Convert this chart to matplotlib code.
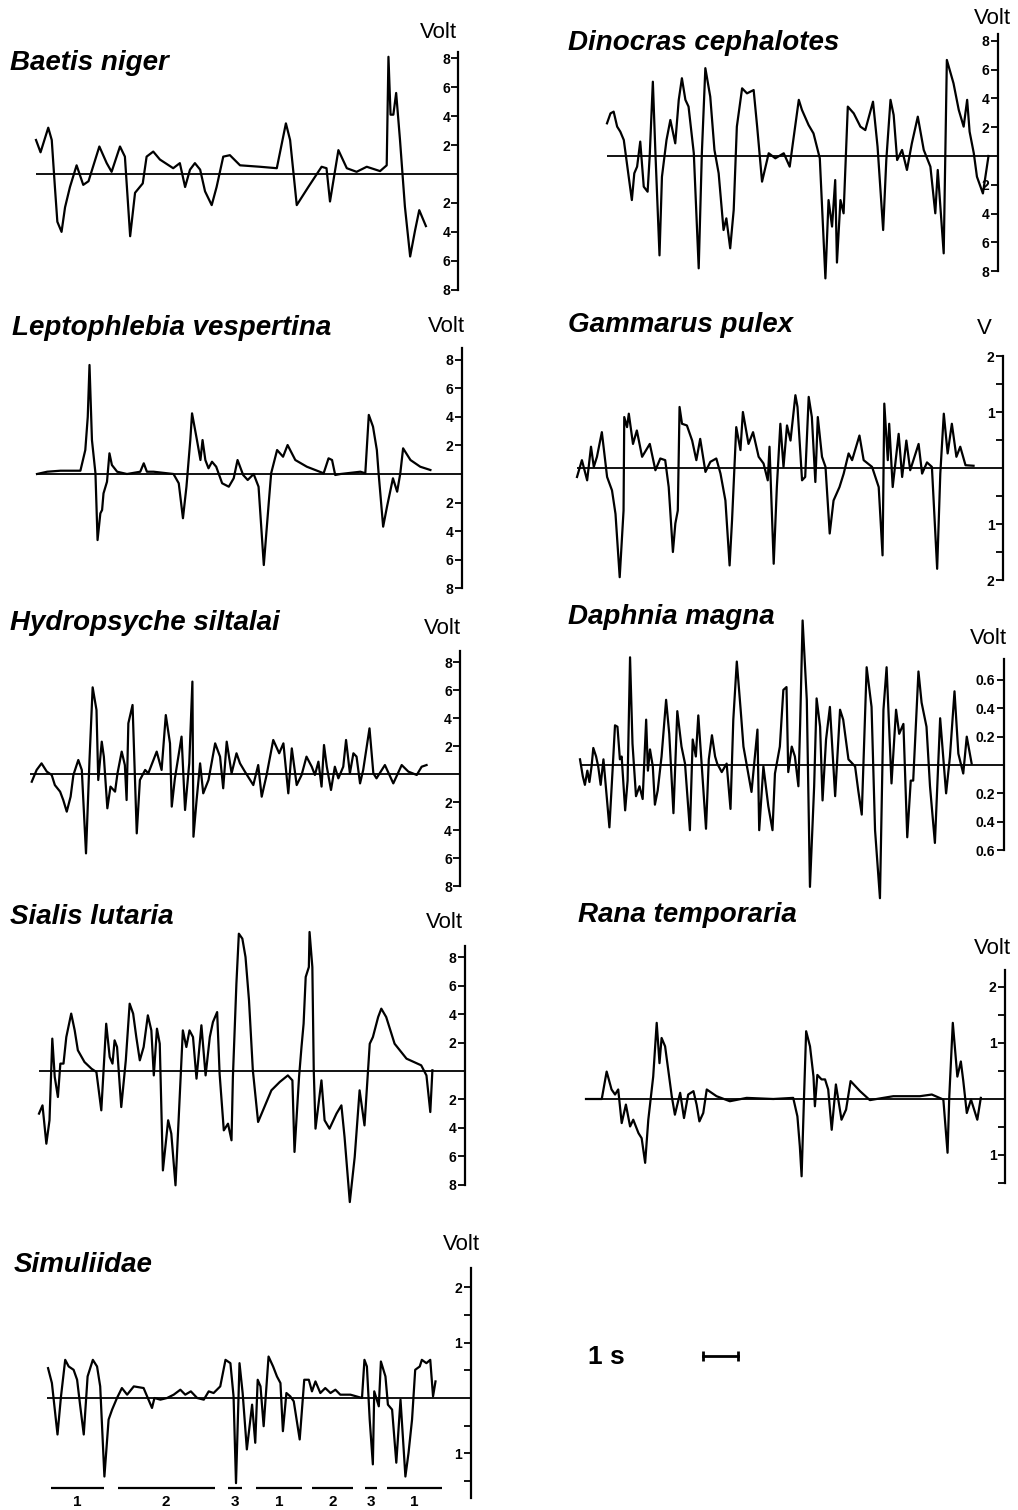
import matplotlib.pyplot as plt

W, H = 1018, 1510
PX_PER_S = 35  # 1 s scale bar length in pixels

# ---- traces: time (s) and voltage (V) ----
baetis_t = [0.00, 0.13, 0.35, 0.45, 0.54, 0.61, 0.73, 0.83, 0.97, 1.16,
            1.35, 1.50, 1.81, 2.02, 2.16, 2.40, 2.54, 2.69, 2.83, 3.05,
            3.16, 3.35, 3.54, 3.92, 4.11, 4.26, 4.40, 4.54, 4.69, 4.83,
            5.02, 5.16, 5.35, 5.54, 5.83, 6.40, 6.88, 7.14, 7.26, 7.45,
            7.78, 8.16, 8.30, 8.40, 8.64, 8.88, 9.16, 9.45, 9.83, 10.02,
            10.07, 10.13, 10.21, 10.29, 10.40, 10.54, 10.69, 10.83, 10.95, 11.14]
baetis_v = [2.35, 1.5, 3.2, 2.35, -0.9, -3.3, -4.0, -2.3, -0.9, 0.6,
            -0.75, -0.5, 1.9, 0.75, 0.15, 1.9, 1.2, -4.3, -1.3, -0.65,
            1.2, 1.55, 1.0, 0.4, 0.75, -0.9, 0.3, 0.75, 0.3, -1.2,
            -2.15, -0.9, 1.2, 1.3, 0.6, 0.5, 0.4, 3.5, 2.35, -2.15,
            -0.9, 0.5, 0.4, -1.9, 1.65, 0.4, 0.15, 0.5, 0.2, 0.6,
            8.1, 4.1, 4.1, 5.6, 2.35, -2.25, -5.7, -3.9, -2.5, -3.6]

dinocras_t = [0.00, 0.10, 0.19, 0.29, 0.38, 0.48, 0.62, 0.71, 0.78, 0.86,
              0.95, 1.05, 1.16, 1.22, 1.31, 1.38, 1.50, 1.57, 1.70, 1.81,
              1.95, 2.05, 2.14, 2.24, 2.33, 2.48, 2.62, 2.71, 2.81, 2.95,
              3.07, 3.19, 3.33, 3.41, 3.52, 3.62, 3.71, 3.86, 4.00, 4.19,
              4.29, 4.43, 4.62, 4.81, 5.05, 5.22, 5.31, 5.48, 5.57, 5.76,
              5.90, 6.08, 6.24, 6.33, 6.43, 6.52, 6.57, 6.67, 6.76, 6.88,
              7.05, 7.24, 7.38, 7.60, 7.73, 7.89, 7.98, 8.10, 8.19, 8.29,
              8.43, 8.57, 8.71, 8.88, 9.05, 9.24, 9.38, 9.45, 9.62, 9.71,
              9.90, 10.05, 10.19, 10.29, 10.36, 10.48, 10.57, 10.74, 10.90]
dinocras_v = [2.27, 2.96, 3.08, 2.04, 1.69, 1.11, -1.44, -3.06, -1.2, -0.74,
              1.0, -2.13, -2.48, 0.0, 5.16, 0.42, -6.9, -1.44, 1.11, 2.5,
              0.88, 3.9, 5.4, 3.9, 3.43, 0.19, -7.8, 0.19, 6.1, 4.12,
              0.42, -1.2, -5.14, -4.33, -6.41, -3.75, 2.04, 4.7, 4.35, 4.58,
              2.04, -1.78, 0.19, -0.16, 0.19, -0.74, 0.88, 3.9, 3.2, 2.15,
              1.57, -0.16, -8.5, -3.06, -4.9, -1.67, -7.4, -3.06, -3.98, 3.43,
              2.96, 2.04, 1.8, 3.77, 0.65, -5.14, -0.28, 3.9, 2.85, -0.28,
              0.42, -0.97, 0.88, 2.73, 0.42, -0.74, -3.98, -0.97, -6.76, 6.67,
              5.05, 3.2, 2.04, 3.9, 1.69, 0.19, -1.44, -2.6, 0.0]

lepto_t = [0.00, 0.29, 0.67, 1.24, 1.38, 1.45, 1.50, 1.57, 1.67, 1.73,
           1.81, 1.86, 1.90, 2.00, 2.07, 2.14, 2.29, 2.57, 2.95, 3.05,
           3.14, 3.33, 3.90, 4.05, 4.17, 4.27, 4.38, 4.43, 4.57, 4.67,
           4.73, 4.81, 4.90, 5.00, 5.12, 5.29, 5.48, 5.62, 5.73, 5.89,
           6.02, 6.19, 6.33, 6.48, 6.62, 6.69, 6.86, 7.03, 7.16, 7.38,
           7.71, 8.19, 8.33, 8.43, 8.52, 8.67, 9.24, 9.38, 9.48, 9.60,
           9.71, 9.76, 9.89, 10.00, 10.10, 10.17, 10.29, 10.38, 10.46, 10.67,
           10.95, 11.24]
lepto_v = [0.0, 0.16, 0.23, 0.23, 1.68, 4.0, 7.64, 2.38, 0.05, -4.63,
           -2.76, -2.52, -1.36, -0.54, 1.45, 0.63, 0.16, 0.0, 0.16, 0.75,
           0.16, 0.16, 0.0, -0.65, -3.1, -0.89, 2.38, 4.25, 2.38, 0.98,
           2.38, 0.98, 0.4, 0.86, 0.51, -0.65, -0.89, -0.3, 0.98, -0.07,
           -0.42, 0.0, -0.89, -6.38, -2.06, 0.05, 1.68, 1.21, 2.03, 0.98,
           0.51, 0.05, 1.1, 0.98, -0.07, 0.0, 0.16, 0.05, 4.14, 3.32,
           1.68, 0.05, -3.69, -2.29, -1.12, -0.3, -1.24, 0.05, 1.8, 0.98,
           0.51, 0.28]

gammarus_t = [0.00, 0.14, 0.29, 0.40, 0.48, 0.57, 0.71, 0.86, 1.00, 1.10,
              1.22, 1.33, 1.35, 1.43, 1.48, 1.60, 1.71, 1.86, 2.08, 2.24,
              2.38, 2.52, 2.62, 2.74, 2.81, 2.88, 2.93, 3.00, 3.14, 3.29,
              3.41, 3.52, 3.67, 3.81, 3.98, 4.10, 4.24, 4.36, 4.43, 4.55,
              4.67, 4.74, 4.90, 5.03, 5.19, 5.33, 5.45, 5.50, 5.62, 5.71,
              5.81, 5.90, 6.00, 6.10, 6.24, 6.30, 6.43, 6.52, 6.62, 6.71,
              6.81, 6.88, 7.00, 7.10, 7.22, 7.33, 7.50, 7.62, 7.76, 7.86,
              8.07, 8.19, 8.43, 8.62, 8.73, 8.78, 8.88, 8.92, 9.02, 9.19,
              9.29, 9.41, 9.52, 9.76, 9.86, 10.00, 10.14, 10.29, 10.38, 10.48,
              10.59, 10.71, 10.84, 10.95, 11.10, 11.33]
gammarus_v = [-0.16, 0.14, -0.22, 0.38, 0.02, 0.20, 0.64, -0.16, -0.40, -0.82,
              -1.95, -0.76, 0.91, 0.73, 0.97, 0.43, 0.67, 0.2, 0.43, -0.04,
              0.17, 0.14, -0.34, -1.5, -0.99, -0.76, 1.09, 0.79, 0.76, 0.49,
              0.14, 0.52, -0.07, 0.11, 0.17, -0.1, -0.58, -1.74, -0.93, 0.73,
              0.32, 1.0, 0.43, 0.64, 0.2, 0.08, -0.22, 0.38, -1.71, -0.34,
              0.79, 0.02, 0.76, 0.49, 1.3, 1.09, -0.22, -0.16, 1.27, 0.91,
              -0.25, 0.91, 0.2, 0.02, -1.17, -0.58, -0.34, -0.10, 0.26, 0.14,
              0.58, 0.14, 0.02, -0.34, -1.56, 1.15, 0.14, 0.79, -0.34, 0.61,
              -0.16, 0.49, -0.04, 0.43, -0.10, 0.1, 0.02, -1.8, -0.10, 0.97,
              0.26, 0.79, 0.2, 0.38, 0.05, 0.04]

hydro_t = [0.05, 0.19, 0.33, 0.48, 0.62, 0.71, 0.86, 0.95, 1.05, 1.16,
           1.24, 1.38, 1.48, 1.60, 1.70, 1.79, 1.90, 1.95, 2.05, 2.11,
           2.21, 2.30, 2.43, 2.50, 2.62, 2.71, 2.76, 2.81, 2.93, 3.05,
           3.14, 3.29, 3.38, 3.62, 3.76, 3.88, 4.00, 4.05, 4.14, 4.33,
           4.43, 4.55, 4.64, 4.67, 4.76, 4.86, 4.95, 5.10, 5.29, 5.43,
           5.52, 5.62, 5.76, 5.90, 6.00, 6.14, 6.38, 6.52, 6.62, 6.76,
           6.95, 7.12, 7.24, 7.38, 7.48, 7.62, 7.76, 7.90, 8.05, 8.14,
           8.24, 8.33, 8.40, 8.48, 8.60, 8.71, 8.81, 8.95, 9.03, 9.14,
           9.24, 9.33, 9.43, 9.52, 9.70, 9.81, 9.90, 10.14, 10.38, 10.62,
           10.81, 11.05, 11.19, 11.33]
hydro_v = [-0.55, 0.29, 0.76, 0.17, -0.07, -0.79, -1.26, -1.86, -2.69, -1.62,
           -0.07, 1.0, 0.29, -5.67, 1.0, 6.19, 4.57, -0.43, 2.31, 1.24,
           -2.45, -0.9, -1.26, 0.05, 1.6, 0.64, -1.86, 3.62, 4.93, -4.24,
           -0.43, 0.29, 0.05, 1.6, 0.29, 4.21, 2.19, -2.33, -0.31, 2.67,
           -2.57, 0.76, 6.6, -4.48, -1.86, 0.76, -1.38, -0.43, 2.19, 1.24,
           -1.02, 2.31, 0.05, 1.48, 0.76, 0.17, -0.79, 0.64, -1.62, -0.07,
           2.43, 1.48, 2.19, -1.38, 1.83, -0.79, -0.07, 1.24, 0.52, -0.07,
           0.88, -0.9, 2.07, 0.52, -1.14, 0.52, -0.31, 0.52, 2.43, 0.05,
           1.48, 1.24, -0.67, 0.29, 3.26, 0.05, -0.31, 0.64, -0.67, 0.64,
           0.17, -0.07, 0.52, 0.64]

daphnia_t = [0.00, 0.08, 0.14, 0.21, 0.27, 0.33, 0.38, 0.46, 0.52, 0.59,
             0.67, 0.84, 0.93, 1.00, 1.07, 1.14, 1.19, 1.29, 1.36, 1.43,
             1.50, 1.60, 1.70, 1.79, 1.89, 1.94, 2.00, 2.08, 2.14, 2.22,
             2.33, 2.46, 2.55, 2.67, 2.78, 2.90, 3.00, 3.14, 3.22, 3.31,
             3.38, 3.48, 3.60, 3.68, 3.77, 3.86, 3.92, 4.05, 4.19, 4.30,
             4.38, 4.48, 4.59, 4.67, 4.90, 5.07, 5.12, 5.24, 5.38, 5.50,
             5.57, 5.71, 5.81, 5.90, 5.95, 6.05, 6.14, 6.24, 6.29, 6.36,
             6.48, 6.57, 6.69, 6.76, 6.86, 6.93, 7.03, 7.14, 7.29, 7.43,
             7.52, 7.67, 7.86, 7.95, 8.05, 8.19, 8.33, 8.43, 8.57, 8.67,
             8.76, 8.90, 9.03, 9.12, 9.24, 9.35, 9.45, 9.52, 9.67, 9.76,
             9.90, 10.00, 10.14, 10.29, 10.46, 10.57, 10.70, 10.81, 10.95, 11.05,
             11.19]
daphnia_v = [0.04, -0.08, -0.14, -0.04, -0.12, -0.01, 0.12, 0.06, -0.01, -0.14,
             0.04, -0.44, -0.04, 0.28, 0.27, 0.04, 0.06, -0.32, -0.11, 0.76,
             0.15, -0.22, -0.15, -0.24, 0.32, -0.04, 0.11, -0.01, -0.28, -0.18,
             0.06, 0.46, 0.22, -0.34, 0.38, 0.13, 0.01, -0.46, 0.18, 0.06,
             0.35, -0.01, -0.45, 0.04, 0.21, 0.06, 0.01, -0.05, 0.01, -0.31,
             0.32, 0.73, 0.39, 0.13, -0.19, 0.25, -0.46, -0.01, -0.29, -0.46,
             -0.06, 0.13, 0.53, 0.55, -0.05, 0.13, 0.06, -0.15, 0.29, 1.02,
             0.46, -0.86, -0.15, 0.47, 0.27, -0.25, 0.18, 0.41, -0.22, 0.39,
             0.32, 0.04, -0.01, -0.18, -0.35, 0.69, 0.41, -0.46, -0.94, 0.39,
             0.69, -0.13, 0.39, 0.22, 0.29, -0.51, -0.11, -0.11, 0.66, 0.44,
             0.27, -0.15, -0.55, 0.33, -0.20, 0.06, 0.52, 0.08, -0.06, 0.2,
             0.01]

sialis_t = [0.00, 0.10, 0.21, 0.30, 0.38, 0.45, 0.54, 0.61, 0.70, 0.78,
            0.92, 1.02, 1.11, 1.30, 1.50, 1.64, 1.78, 1.85, 1.92, 2.02,
            2.10, 2.16, 2.23, 2.35, 2.48, 2.59, 2.69, 2.78, 2.88, 2.99,
            3.11, 3.21, 3.28, 3.37, 3.45, 3.54, 3.69, 3.78, 3.90, 4.02,
            4.11, 4.21, 4.30, 4.40, 4.50, 4.64, 4.76, 4.88, 4.97, 5.09,
            5.16, 5.28, 5.40, 5.50, 5.54, 5.64, 5.71, 5.81, 5.90, 6.00,
            6.11, 6.26, 6.40, 6.64, 6.88, 7.11, 7.24, 7.30, 7.43, 7.50,
            7.56, 7.62, 7.71, 7.73, 7.81, 7.85, 7.90, 8.07, 8.16, 8.30,
            8.50, 8.64, 8.73, 8.88, 9.02, 9.16, 9.30, 9.45, 9.54, 9.69,
            9.78, 9.92, 10.16, 10.50, 10.92, 11.07, 11.18, 11.24]
sialis_v = [-3.0, -2.42, -5.12, -3.47, 2.28, -0.42, -1.83, 0.52, 0.52, 2.39,
            4.04, 2.86, 1.46, 0.63, 0.16, -0.07, -2.77, 0.28, 3.33, 0.99,
            0.52, 2.16, 1.69, -2.54, 0.75, 4.74, 4.04, 2.39, 0.75, 1.69,
            3.92, 2.86, -0.31, 2.98, 1.92, -7.0, -3.47, -4.41, -8.05, -1.83,
            2.86, 1.69, 2.86, 2.39, -0.54, 3.22, -0.31, 2.39, 3.45, 4.15,
            -0.19, -4.18, -3.71, -4.88, -0.42, 6.15, 9.67, 9.32, 8.03, 4.98,
            0.05, -3.59, -2.77, -1.36, -0.77, -0.31, -0.66, -5.7, -0.42, 1.69,
            3.33, 6.62, 7.32, 9.79, 7.32, 0.05, -4.06, -0.66, -3.47, -4.06,
            -3.0, -2.42, -4.65, -9.23, -6.06, -1.36, -3.83, 1.92, 2.39, 3.8,
            4.39, 3.8, 1.92, 0.87, 0.4, -0.31, -2.89, 0.05]

rana_t = [0.00, 0.45, 0.59, 0.73, 0.83, 0.92, 1.02, 1.14, 1.26, 1.35,
          1.50, 1.59, 1.69, 1.78, 1.92, 2.02, 2.10, 2.16, 2.26, 2.45,
          2.54, 2.69, 2.80, 2.92, 3.07, 3.16, 3.24, 3.35, 3.45, 3.73,
          4.11, 4.59, 5.35, 5.92, 6.04, 6.11, 6.16, 6.23, 6.29, 6.40,
          6.50, 6.54, 6.61, 6.73, 6.83, 6.92, 7.02, 7.14, 7.30, 7.43,
          7.56, 7.83, 8.11, 8.78, 9.54, 9.88, 10.21, 10.33, 10.38, 10.48,
          10.61, 10.71, 10.78, 10.88, 11.00, 11.18, 11.28]
rana_v = [0.0, 0.0, 0.49, 0.17, 0.08, 0.17, -0.43, -0.10, -0.49, -0.37,
          -0.61, -0.7, -1.14, -0.37, 0.4, 1.36, 0.64, 1.09, 0.94, 0.05,
          -0.28, 0.11, -0.34, 0.08, 0.14, -0.1, -0.4, -0.25, 0.17, 0.05,
          -0.04, 0.02, 0.0, 0.02, -0.31, -0.85, -1.38, 0.05, 1.21, 0.94,
          0.4, -0.13, 0.43, 0.35, 0.35, 0.17, -0.55, 0.26, -0.37, -0.19,
          0.32, 0.14, -0.02, 0.05, 0.05, 0.08, -0.01, -0.96, 0.05, 1.36,
          0.4, 0.67, 0.32, -0.25, -0.01, -0.37, 0.02]

simul_t = [0.03, 0.14, 0.30, 0.40, 0.52, 0.62, 0.76, 0.86, 0.95, 1.05,
           1.16, 1.31, 1.43, 1.52, 1.64, 1.76, 1.86, 2.00, 2.14, 2.29,
           2.48, 2.76, 2.90, 3.00, 3.07, 3.24, 3.43, 3.62, 3.81, 3.95,
           4.11, 4.29, 4.48, 4.62, 4.76, 4.95, 5.10, 5.24, 5.33, 5.40,
           5.50, 5.59, 5.71, 5.86, 5.95, 6.02, 6.10, 6.19, 6.33, 6.46,
           6.57, 6.67, 6.74, 6.84, 6.95, 7.05, 7.22, 7.35, 7.48, 7.57,
           7.67, 7.81, 7.95, 8.10, 8.24, 8.38, 8.67, 9.00, 9.07, 9.14,
           9.22, 9.31, 9.35, 9.48, 9.54, 9.67, 9.74, 9.86, 9.98, 10.10,
           10.24, 10.33, 10.43, 10.52, 10.65, 10.71, 10.84, 10.95, 11.03, 11.10]
simul_v = [0.54, 0.27, -0.66, 0.03, 0.69, 0.57, 0.51, 0.33, -0.15, -0.66,
           0.39, 0.69, 0.57, 0.21, -1.42, -0.39, -0.21, 0.0, 0.18, 0.06,
           0.21, 0.18, -0.03, -0.18, 0.0, -0.03, 0.0, 0.06, 0.15, 0.06,
           0.12, 0.0, -0.03, 0.12, 0.09, 0.21, 0.69, 0.63, 0.03, -1.54,
           0.63, 0.09, -0.93, -0.12, -0.81, 0.33, 0.21, -0.51, 0.75, 0.57,
           0.39, 0.27, -0.6, 0.09, 0.03, -0.06, -0.75, 0.33, 0.33, 0.12,
           0.3, 0.09, 0.18, 0.09, 0.15, 0.06, 0.06, 0.0, 0.69, 0.57,
           -0.39, -1.2, 0.12, -0.15, 0.66, 0.39, -0.12, -0.21, -1.17, -0.03,
           -1.42, -0.99, -0.39, 0.51, 0.57, 0.69, 0.63, 0.69, 0.03, 0.3]

# Simuliidae behaviour phases under the trace
phase_start = [0.11, 2.02, 5.17, 5.98, 7.57, 9.08, 9.71]
phase_end = [1.62, 4.79, 5.57, 7.29, 8.74, 9.43, 11.29]
phase_label = ['1', '2', '3', '1', '2', '3', '1']

volt8_ticks = [8, 6, 4, 2, -2, -4, -6, -8]
volt8_labels = ['8', '6', '4', '2', '2', '4', '6', '8']
volt2_ticks = [2, 1.5, 1, 0.5, -0.5, -1, -1.5, -2]
volt2_labels = ['2', '', '1', '', '', '1', '', '2']
rana_ticks = [2, 1.5, 1, 0.5, -0.5, -1, -1.5]
rana_labels = ['2', '', '1', '', '', '1', '']
daphnia_ticks = [0.6, 0.4, 0.2, -0.2, -0.4, -0.6]
daphnia_labels = ['0.6', '0.4', '0.2', '0.2', '0.4', '0.6']

plt.rcParams['font.family'] = ['Liberation Sans', 'DejaVu Sans']
fig = plt.figure(figsize=(W / 100, H / 100), dpi=100)


def panel(t, v, x0, t_axis, y0, ppv, ylim, spine, ticks, labels,
          title, title_xy, unit, unit_xy):
    lo, hi = ylim
    top = y0 - hi * ppv
    bottom = y0 - lo * ppv
    ax = fig.add_axes([x0 / W, 1 - bottom / H,
                       t_axis * PX_PER_S / W, (bottom - top) / H])
    ax.set_xlim(0, t_axis)
    ax.set_ylim(lo, hi)
    ax.patch.set_visible(False)
    for s in ['top', 'right', 'bottom']:
        ax.spines[s].set_visible(False)
    sp = ax.spines['left']
    sp.set_position(('axes', 1.0))
    sp.set_bounds(*spine)
    sp.set_linewidth(1.6)
    ax.set_xticks([])
    ax.set_yticks(ticks, labels, fontweight='bold')
    ax.tick_params(axis='y', direction='out', length=5, width=1.3,
                   pad=1, labelsize=10)
    ax.plot([0, t_axis], [0, 0], color='black', lw=1.3)
    ax.plot(t, v, color='black', lw=1.6, clip_on=False,
            solid_joinstyle='round')
    fig.text(title_xy[0] / W, 1 - title_xy[1] / H, title, ha='left',
             va='center', fontsize=20, fontweight='bold', style='italic')
    fig.text(unit_xy[0] / W, 1 - unit_xy[1] / H, unit, ha='center',
             va='center', fontsize=16)
    return ax


panel(baetis_t, baetis_v, 36, 12.07, 174, 14.47, (-8.5, 8.6), (-8, 8.4),
      volt8_ticks, volt8_labels, 'Baetis niger', (10, 63), 'Volt', (438, 33))
panel(dinocras_t, dinocras_v, 607, 11.16, 156, 14.4, (-9, 8.8), (-8, 8.5),
      volt8_ticks, volt8_labels, 'Dinocras cephalotes', (568, 43), 'Volt', (992, 18))
panel(lepto_t, lepto_v, 37, 12.14, 474, 14.27, (-8.5, 9), (-8, 8.8),
      volt8_ticks, volt8_labels, 'Leptophlebia vespertina', (12, 328), 'Volt', (446, 327))
panel(gammarus_t, gammarus_v, 577, 12.17, 468, 56, (-2.1, 2.1), (-2, 2),
      volt2_ticks, volt2_labels, 'Gammarus pulex', (568, 325), 'V', (984, 328))
panel(hydro_t, hydro_v, 30, 12.29, 774, 14, (-8.5, 9), (-8, 8.8),
      volt8_ticks, volt8_labels, 'Hydropsyche siltalai', (10, 623), 'Volt', (442, 628))
panel(daphnia_t, daphnia_v, 580, 12.10, 765, 141.7, (-1.0, 1.1), (-0.6, 0.75),
      daphnia_ticks, daphnia_labels, 'Daphnia magna', (568, 617), 'Volt', (988, 638))
panel(sialis_t, sialis_v, 39, 12.16, 1071, 14.2, (-9.5, 10), (-8, 8.8),
      volt8_ticks, volt8_labels, 'Sialis lutaria', (10, 917), 'Volt', (444, 923))
panel(rana_t, rana_v, 586, 11.97, 1099, 56, (-1.5, 2.4), (-1.5, 2.3),
      rana_ticks, rana_labels, 'Rana temporaria', (578, 915), 'Volt', (992, 948))
ax_s = panel(simul_t, simul_v, 47, 12.10, 1398, 55.3, (-2.0, 2.4), (-1.8, 2.35),
             rana_ticks, rana_labels, 'Simuliidae', (14, 1265), 'Volt', (461, 1245))

# behaviour phase bars with their numbers
ax_s.hlines([-1.63] * len(phase_start), phase_start, phase_end,
            color='black', lw=1.6, clip_on=False)
for a, b, lab in zip(phase_start, phase_end, phase_label):
    ax_s.text((a + b) / 2, -1.88, lab, ha='center', va='center',
              fontsize=11, fontweight='bold', clip_on=False)

# time scale bar: 1 s
ax_bar = fig.add_axes([703 / W, 1 - 1362 / H, PX_PER_S / W, 12 / H])
ax_bar.set_xlim(0, 1)
ax_bar.set_ylim(-1, 1)
ax_bar.axis('off')
ax_bar.plot([0, 1], [0, 0], color='black', lw=2, marker='|', ms=7,
            mew=2, clip_on=False)
fig.text(588 / W, 1 - 1357 / H, '1 s', ha='left', va='center',
         fontsize=19, fontweight='bold')

fig.savefig('out.png', dpi=100)
